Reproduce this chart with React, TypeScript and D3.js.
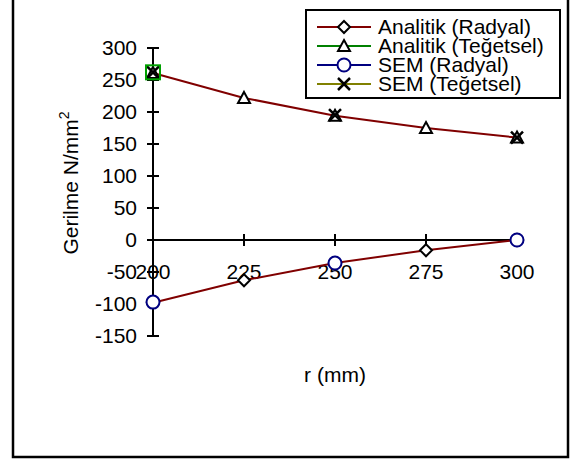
import React, { useEffect, useRef } from 'react';
import * as d3 from 'd3';

const rValues = [200, 225, 250, 275, 300];
const analitikRadyal = [-98, -63, -36, -16, 0];
const analitikTegetsel = [261, 222, 194, 175, 160];
const semR = [200, 250, 300];
const semRadyal = [-97, -36, 0];
const semTegetsel = [262, 195, 160];
const yTicks = [-150, -100, -50, 0, 50, 100, 150, 200, 250, 300];
const legendLabels = ['Analitik (Radyal)', 'Analitik (Teğetsel)', 'SEM (Radyal)', 'SEM (Teğetsel)'];
const legendColors = ['#800000', '#008000', '#000080', '#808000'];

const W = 571;
const H = 461;

const App = () => {
    const svgRef = useRef<SVGSVGElement>(null);

    useEffect(() => {
        if (!svgRef.current) return;
        const svg = d3.select(svgRef.current);
        svg.selectAll('*').remove();
        const font = '"Liberation Sans", Arial, sans-serif';
        const fs = 21;

        const x = d3.scaleLinear().domain([200, 300]).range([153, 517]);
        const y = d3.scaleLinear().domain([-150, 300]).range([336, 48]);

        // outer frame
        svg.append('rect')
            .attr('x', 13).attr('y', -5)
            .attr('width', 555).attr('height', 462)
            .attr('fill', 'white').attr('stroke', 'black').attr('stroke-width', 2.5);

        // y axis
        svg.append('line')
            .attr('x1', x(200)).attr('x2', x(200))
            .attr('y1', y(300)).attr('y2', y(-150))
            .attr('stroke', 'black').attr('stroke-width', 2);
        yTicks.forEach(t => {
            svg.append('line')
                .attr('x1', x(200) - 6).attr('x2', x(200) + 6)
                .attr('y1', y(t)).attr('y2', y(t))
                .attr('stroke', 'black').attr('stroke-width', 2);
            svg.append('text')
                .attr('x', 137).attr('y', y(t) + 7)
                .attr('text-anchor', 'end')
                .attr('font-family', font).attr('font-size', fs)
                .text(t);
        });

        // x axis at zero
        svg.append('line')
            .attr('x1', x(200) - 6).attr('x2', x(300))
            .attr('y1', y(0)).attr('y2', y(0))
            .attr('stroke', 'black').attr('stroke-width', 2);
        rValues.forEach(r => {
            svg.append('line')
                .attr('x1', x(r)).attr('x2', x(r))
                .attr('y1', y(0) - 6).attr('y2', y(0) + 6)
                .attr('stroke', 'black').attr('stroke-width', 2);
            svg.append('text')
                .attr('x', x(r)).attr('y', y(0) + 39)
                .attr('text-anchor', 'middle')
                .attr('font-family', font).attr('font-size', fs)
                .text(r);
        });

        // axis titles
        const yt = svg.append('text')
            .attr('transform', `translate(78,${183}) rotate(-90)`)
            .attr('text-anchor', 'middle')
            .attr('font-family', font).attr('font-size', fs);
        yt.append('tspan').text('Gerilme N/mm');
        yt.append('tspan').attr('dy', -9).attr('font-size', 14).text('2');

        svg.append('text')
            .attr('x', 335).attr('y', 382)
            .attr('text-anchor', 'middle')
            .attr('font-family', font).attr('font-size', fs)
            .text('r (mm)');

        // lines
        const line = d3.line<[number, number]>().x(d => x(d[0])).y(d => y(d[1]));
        [analitikRadyal, analitikTegetsel].forEach(vals => {
            svg.append('path')
                .attr('d', line(rValues.map((r, i) => [r, vals[i]] as [number, number])))
                .attr('fill', 'none').attr('stroke', '#800000').attr('stroke-width', 2);
        });

        const diamond = (cx: number, cy: number, g: any = svg) =>
            g.append('path')
                .attr('d', `M${cx},${cy - 6}L${cx + 6},${cy}L${cx},${cy + 6}L${cx - 6},${cy}Z`)
                .attr('fill', 'white').attr('stroke', 'black').attr('stroke-width', 2);
        const triangle = (cx: number, cy: number, g: any = svg) =>
            g.append('path')
                .attr('d', `M${cx},${cy - 6}L${cx + 6},${cy + 5}L${cx - 6},${cy + 5}Z`)
                .attr('fill', 'white').attr('stroke', 'black').attr('stroke-width', 2);
        const circle = (cx: number, cy: number, g: any = svg) =>
            g.append('circle').attr('cx', cx).attr('cy', cy).attr('r', 6.5)
                .attr('fill', 'white').attr('stroke', '#000080').attr('stroke-width', 2);
        const cross = (cx: number, cy: number, g: any = svg) =>
            g.append('path')
                .attr('d', `M${cx - 6},${cy - 6}L${cx + 6},${cy + 6}M${cx - 6},${cy + 6}L${cx + 6},${cy - 6}`)
                .attr('stroke', 'black').attr('stroke-width', 2.5);

        rValues.forEach((r, i) => diamond(x(r), y(analitikRadyal[i])));
        rValues.forEach((r, i) => triangle(x(r), y(analitikTegetsel[i])));
        semR.forEach((r, i) => circle(x(r), y(semRadyal[i])));
        semR.forEach((r, i) => cross(x(r), y(semTegetsel[i])));

        // selection square at first point
        svg.append('rect')
            .attr('x', x(200) - 7).attr('y', y(semTegetsel[0]) - 7)
            .attr('width', 14).attr('height', 14)
            .attr('fill', 'none').attr('stroke', '#00a000').attr('stroke-width', 2);

        // legend
        const lg = svg.append('g');
        lg.append('rect')
            .attr('x', 306).attr('y', 10).attr('width', 254).attr('height', 88)
            .attr('fill', 'white').attr('stroke', 'black').attr('stroke-width', 2);
        const markers = [diamond, triangle, circle, cross];
        legendLabels.forEach((lab, i) => {
            const cy = 27 + i * 19;
            lg.append('line')
                .attr('x1', 317).attr('x2', 371).attr('y1', cy).attr('y2', cy)
                .attr('stroke', legendColors[i]).attr('stroke-width', 2);
            markers[i](344, cy, lg);
            lg.append('text')
                .attr('x', 378).attr('y', cy + 7)
                .attr('font-family', font).attr('font-size', fs)
                .text(lab);
        });
    }, []);

    return (
        <svg ref={svgRef} width={W} height={H}
            style={{ position: 'absolute', left: 0, top: 0, background: 'white' }} />
    );
};

export default App;
